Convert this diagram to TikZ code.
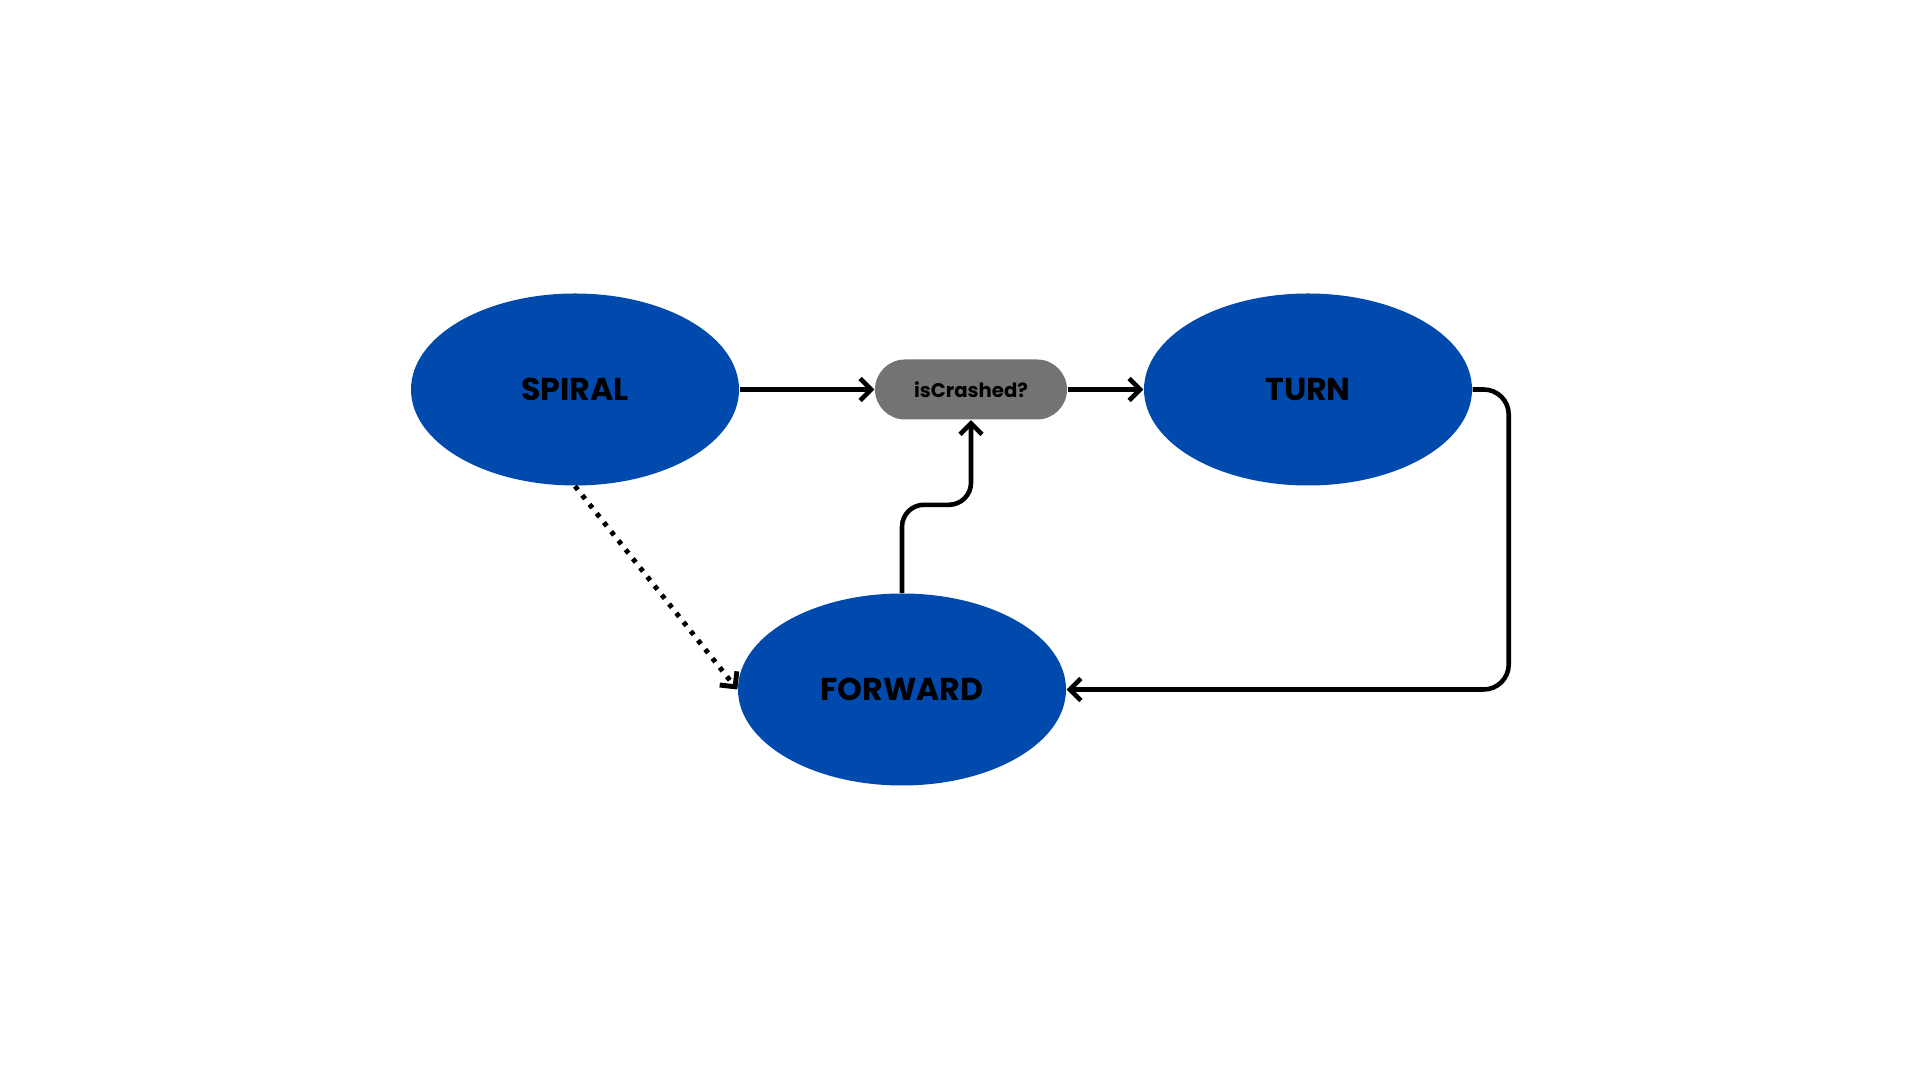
\documentclass[tikz,border=0pt]{standalone}
\usepackage{fontspec}
\setmainfont{Poppins}
\usepackage{tikz}
\usetikzlibrary{shapes,arrows.meta}
\definecolor{stateblue}{HTML}{004AAD}
\definecolor{testgrey}{HTML}{737373}
\tikzstyle{state} = [ellipse, fill=stateblue, inner sep=0pt,
    minimum width=3.28cm, minimum height=1.92cm, font=\fontsize{9}{11}\selectfont\bfseries]
\tikzstyle{test} = [rectangle, fill=testgrey, rounded corners=3mm, inner sep=0pt,
    minimum width=1.92cm, minimum height=0.6cm, font=\fontsize{5.6}{7}\selectfont\bfseries]
\tikzstyle{line} = [draw, line width=1.3pt, -{Straight Barb[length=1.1mm,width=2.2mm]}]

\begin{document}
\begin{tikzpicture}[node distance = 3.5cm, auto]
  \useasboundingbox (0,0) rectangle (19.2,10.8);
   % Place nodes
    \node [state] at (5.75,6.905) (spiral) {SPIRAL};
    \node [test, right of=spiral, node distance = 3.96cm] (check) {isCrashed?};
    \node [state, right of=check, node distance = 3.37cm] (turn) {TURN};
    \node [state, below of=check, node distance = 3.0cm, xshift=-0.69cm] (forward) {FORWARD};
   % Draw edges
    \path [line] (spiral) -- (check);
    \path [line] (check) -- (turn);
    \path [line, rounded corners=0.25cm] (turn.east) -- ++(0.36,0) |- (forward.east);
    \path [line, rounded corners=0.22cm] (forward.north) -- ++(0,0.88) -| (check.south);
    \path [line, dotted, line width=1.4pt] (spiral.south) -- (forward.west);
  \end{tikzpicture}
\end{document}
